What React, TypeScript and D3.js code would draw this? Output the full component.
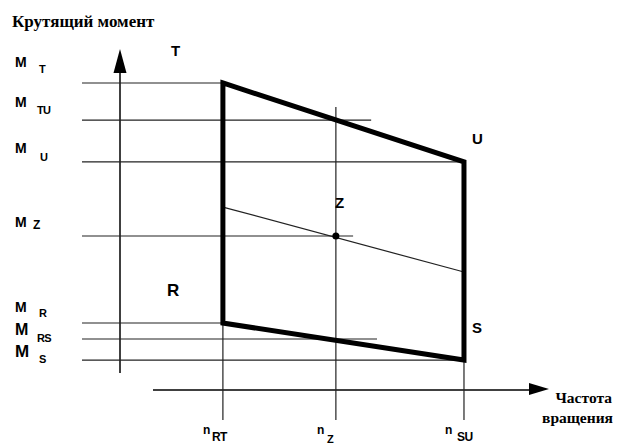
import React from "react";
import * as d3 from "d3";

// Torque levels (arbitrary units)
const torqueNames = ["T", "TU", "U", "Z", "R", "RS", "S"];
const torqueValues = [90.3, 79.4, 67.1, 45.3, 19.7, 15.0, 8.8];
// where each reference line ends along speed axis
const torqueLineEnd = [24.5, 59.8, 81.9, 55.5, 24.5, 61.2, 81.9];

// Speed levels
const speedNames = ["RT", "z", "SU"];
const speedValues = [24.5, 51.4, 81.9];
const speedLineTop = [90.3, 83.2, 67.1];

// Corner points of the working field (speed, torque)
const fieldNames = ["T", "U", "S", "R"];
const fieldSpeed = [24.5, 81.9, 81.9, 24.5];
const fieldTorque = [90.3, 67.1, 8.8, 19.7];

// Line through Z
const zLineSpeed = [24.5, 81.9];
const zLineTorque = [53.8, 34.7];
const zPoint = [51.4, 45.3];

const W = 617;
const H = 444;

export default function App() {
  const x = d3.scaleLinear().domain([0, 100]).range([120, 540]);
  const y = d3.scaleLinear().domain([0, 100]).range([390, 50]);
  const line = d3.line<[number, number]>().x((d) => x(d[0])).y((d) => y(d[1]));

  const field: [number, number][] = fieldSpeed.map((s, i) => [s, fieldTorque[i]]);
  const fieldPath = line(field) + "Z";

  const sans = "Liberation Sans, Arial, sans-serif";
  const serif = "Liberation Serif, Times New Roman, serif";

  const mSizes = [14, 14, 14, 14, 14, 16, 17];
  const mBase = [67, 107, 153, 227, 312, 335, 357];
  const subX = [39, 37, 40, 33, 39, 37, 39];
  const subBase = [73, 114, 161, 229, 317, 342, 363];

  const xLeft = x.invert(82);
  const yBottom = y.invert(420);

  return (
    <svg
      width={W}
      height={H}
      style={{ position: "absolute", left: 0, top: 0, background: "#fff" }}
    >
      <rect width={W} height={H} fill="#fff" />
      {/* title */}
      <text x={12} y={27} fontFamily={serif} fontWeight="bold" fontSize={17}>
        Крутящий момент
      </text>

      {/* vertical axis */}
      <line x1={x(0)} x2={x(0)} y1={373} y2={72} stroke="#000" strokeWidth={1.5} />
      <path d={`M${x(0)},49 L${x(0) - 6.5},73 L${x(0) + 6.5},73 Z`} fill="#000" />

      {/* horizontal axis */}
      <line x1={153} x2={529} y1={y(0)} y2={y(0)} stroke="#000" strokeWidth={1.5} />
      <path d={`M529,383 L549,389 L529,395 Z`} fill="#000" />
      <text x={612} y={403} textAnchor="end" fontFamily={serif} fontWeight="bold" fontSize={15.5}>
        Частота
      </text>
      <text x={613} y={423} textAnchor="end" fontFamily={serif} fontWeight="bold" fontSize={15.5}>
        вращения
      </text>

      {/* torque reference lines */}
      {torqueValues.map((v, i) => (
        <line
          key={"h" + i}
          x1={x(xLeft)}
          x2={x(torqueLineEnd[i])}
          y1={y(v)}
          y2={y(v)}
          stroke="#222"
          strokeWidth={1.2}
        />
      ))}

      {/* speed reference lines */}
      {speedValues.map((v, i) => (
        <line
          key={"v" + i}
          x1={x(v)}
          x2={x(v)}
          y1={y(speedLineTop[i])}
          y2={y(yBottom)}
          stroke="#222"
          strokeWidth={1.2}
        />
      ))}

      {/* line through Z */}
      <line
        x1={x(zLineSpeed[0])}
        y1={y(zLineTorque[0])}
        x2={x(zLineSpeed[1])}
        y2={y(zLineTorque[1])}
        stroke="#222"
        strokeWidth={1.2}
      />
      <circle cx={x(zPoint[0])} cy={y(zPoint[1])} r={3.5} fill="#000" />

      {/* working field */}
      <path d={fieldPath} fill="none" stroke="#000" strokeWidth={5} strokeLinejoin="miter" />

      {/* point labels */}
      <g fontFamily={sans} fontWeight="bold" fontSize={15}>
        <text x={171} y={56}>{fieldNames[0]}</text>
        <text x={472} y={144}>{fieldNames[1]}</text>
        <text x={472} y={333}>{fieldNames[2]}</text>
        <text x={167} y={296} fontSize={17}>{fieldNames[3]}</text>
        <text x={335} y={208}>Z</text>
      </g>

      {/* torque labels */}
      <g fontFamily={sans} fontWeight="bold">
        {torqueNames.map((n, i) => (
          <g key={"ml" + i}>
            <text x={15} y={mBase[i]} fontSize={mSizes[i]}>M</text>
            <text x={subX[i]} y={subBase[i]} fontSize={i === 3 ? 12 : 11} letterSpacing={-0.6}>
              {n}
            </text>
          </g>
        ))}
      </g>

      {/* speed labels */}
      <g fontFamily={sans} fontWeight="bold">
        <text x={203} y={434} fontSize={12}>n</text>
        <text x={212} y={441} fontSize={12} letterSpacing={-0.6}>{speedNames[0]}</text>
        <text x={317} y={434} fontSize={12}>n</text>
        <text x={327} y={443} fontSize={11}>{speedNames[1].toUpperCase()}</text>
        <text x={445} y={434} fontSize={12}>n</text>
        <text x={457} y={441} fontSize={12} letterSpacing={-0.6}>{speedNames[2]}</text>
      </g>
    </svg>
  );
}
